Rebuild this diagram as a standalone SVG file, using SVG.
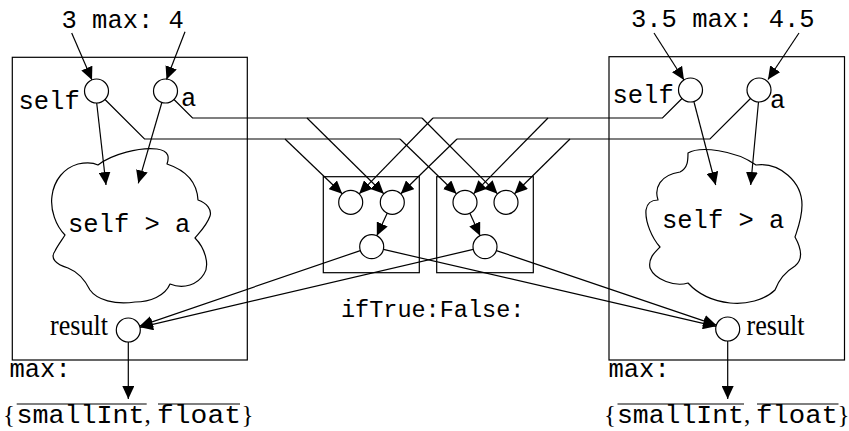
<svg xmlns="http://www.w3.org/2000/svg" width="849" height="431" viewBox="0 0 849 431">
  <style>
    .frame { fill: none; stroke: #000; stroke-width: 1.2; }
    .port { fill: #fff; stroke: #000; stroke-width: 1.2; }
    .cloud { fill: #fff; stroke: #000; stroke-width: 1.2; stroke-linejoin: round; }
    .wire { fill: none; stroke: #000; stroke-width: 1.2; }
    .arrow { fill: none; stroke: #000; stroke-width: 1.2; marker-end: url(#head); }
    .mono { font-family: "Liberation Mono", "Courier New", monospace; font-size: 25.5px; fill: #000; }
    .serif { font-family: "Liberation Serif", "Times New Roman", serif; font-size: 25px; fill: #000; }
    .label { font-family: "Liberation Serif", "Times New Roman", serif; font-size: 29px; fill: #000; }
    .bar { stroke: #000; stroke-width: 1.2; }
  </style>
  <defs>
    <marker id="head" viewBox="0 0 13 12" refX="13" refY="6" markerWidth="13" markerHeight="12" markerUnits="userSpaceOnUse" orient="auto">
      <path d="M0,0 L13,6 L0,12 Z" fill="#000"/>
    </marker>
  </defs>

  <rect width="849" height="431" fill="#fff"/>

  <!-- left method: 3 max: 4 -->
  <g id="max-int">
    <rect class="frame" x="12.3" y="57.3" width="235" height="302.7"/>
    <text class="mono" x="61.5" y="28">3 max: 4</text>
    <path class="cloud" d="M 98,165 C 112,154 140,147 157,149 C 170,151 169,158 167,164 C 185,170 197,182 198,200 C 207,203 212,210 210,216 C 207,225 200,232 195,238 C 205,248 210,265 204,274 C 198,284 184,290 170,284 C 165,296 150,302 135,302 C 115,305 97,300 90,290 C 85,280 78,272 68,268 C 55,264 50,258 55,251 C 58,245 62,240 65,235 C 56,226 50,210 52,196 C 54,180 64,168 78,164 C 88,162 94,163 98,165 Z"/>
    <text class="mono" x="68" y="232">self &gt; a</text>
    <text class="mono" x="9.5" y="377">max:</text>
  </g>
  <g id="max-int-self">
    <circle class="port" cx="96.5" cy="91" r="12"/>
    <text class="mono" x="18.5" y="109">self</text>
  </g>
  <g id="max-int-a">
    <circle class="port" cx="165.5" cy="91" r="12"/>
    <text class="mono" x="181" y="106">a</text>
  </g>
  <g id="max-int-result">
    <circle class="port" cx="128.3" cy="330" r="12"/>
    <text class="label" x="50" y="335" textLength="58" lengthAdjust="spacingAndGlyphs">result</text>
  </g>
  <g id="max-int-types">
    <text y="423"><tspan class="serif" x="3">{</tspan><tspan class="mono" x="16.5" textLength="128" lengthAdjust="spacingAndGlyphs">smallInt</tspan><tspan class="serif" x="144.5">,</tspan><tspan class="mono" x="157" textLength="84" lengthAdjust="spacingAndGlyphs">float</tspan><tspan class="serif" x="241.5">}</tspan></text>
    <line class="bar" x1="16.7" y1="404" x2="146.7" y2="404"/>
    <line class="bar" x1="158" y1="404" x2="240" y2="404"/>
  </g>

  <!-- right method: 3.5 max: 4.5 -->
  <g id="max-float">
    <rect class="frame" x="609" y="56.7" width="235.5" height="303.3"/>
    <text class="mono" x="631" y="27">3.5 max: 4.5</text>
    <path class="cloud" d="M 688,153 C 700,146 735,150 756,165 C 780,162 802,182 802,205 C 802,218 798,228 795,237 C 800,246 805,258 795,266 C 785,272 778,282 775,290 C 765,300 745,305 730,303 C 712,301 698,294 688,283 C 675,287 655,280 650,268 C 648,258 655,252 660,247 C 652,238 645,222 646,210 C 647,203 652,200 658,200 C 654,188 660,175 680,172 C 688,168 688,160 688,153 Z"/>
    <text class="mono" x="662" y="227.5">self &gt; a</text>
    <text class="mono" x="608.5" y="377">max:</text>
  </g>
  <g id="max-float-self">
    <circle class="port" cx="690.5" cy="90" r="12"/>
    <text class="mono" x="612.5" y="103">self</text>
  </g>
  <g id="max-float-a">
    <circle class="port" cx="759" cy="90" r="12"/>
    <text class="mono" x="770" y="108">a</text>
  </g>
  <g id="max-float-result">
    <circle class="port" cx="727.7" cy="329" r="12"/>
    <text class="label" x="746.5" y="335" textLength="58" lengthAdjust="spacingAndGlyphs">result</text>
  </g>
  <g id="max-float-types">
    <text y="423"><tspan class="serif" x="604">{</tspan><tspan class="mono" x="617" textLength="127" lengthAdjust="spacingAndGlyphs">smallInt</tspan><tspan class="serif" x="744">,</tspan><tspan class="mono" x="756" textLength="82" lengthAdjust="spacingAndGlyphs">float</tspan><tspan class="serif" x="837.5">}</tspan></text>
    <line class="bar" x1="617.5" y1="404" x2="744" y2="404"/>
    <line class="bar" x1="757" y1="404" x2="838.5" y2="404"/>
  </g>

  <!-- ifTrue:False: selectors -->
  <g id="if-left">
    <rect class="frame" x="323.3" y="176.7" width="96" height="96"/>
    <circle class="port" cx="350.7" cy="202.3" r="12"/>
    <circle class="port" cx="392.3" cy="202.3" r="12"/>
    <circle class="port" cx="371.7" cy="246.7" r="12"/>
  </g>
  <g id="if-right">
    <rect class="frame" x="436.7" y="176.7" width="96.6" height="96"/>
    <circle class="port" cx="465" cy="202.3" r="12"/>
    <circle class="port" cx="506" cy="202.3" r="12"/>
    <circle class="port" cx="485" cy="246.7" r="12"/>
  </g>
  <text class="mono" x="341" y="316.5" style="font-size:23.5px">ifTrue:False:</text>

  <g id="connectors">
    <!-- receivers and arguments -->
    <line class="arrow" x1="71.7" y1="33" x2="92" y2="80"/>
    <line class="arrow" x1="185" y1="31.7" x2="166.5" y2="79.5"/>
    <line class="arrow" x1="654" y1="33" x2="684" y2="80"/>
    <line class="arrow" x1="799" y1="33" x2="768" y2="79.5"/>

    <!-- ports into comparison clouds -->
    <line class="arrow" x1="96.7" y1="103" x2="106" y2="185"/>
    <line class="arrow" x1="161.7" y1="103" x2="138.3" y2="183.3"/>
    <line class="arrow" x1="694" y1="102" x2="715.7" y2="185"/>
    <line class="arrow" x1="758.5" y1="102" x2="750.7" y2="185"/>

    <!-- left self / a buses -->
    <polyline class="wire" points="105,99.5 144.5,139 400,139"/>
    <polyline class="wire" points="174,99.5 192.5,118 422,118"/>
    <line class="arrow" x1="285" y1="139" x2="342.2" y2="193.8"/>
    <line class="arrow" x1="400" y1="139" x2="456.5" y2="193.8"/>
    <line class="arrow" x1="307" y1="118" x2="383.8" y2="193.8"/>
    <line class="arrow" x1="422" y1="118" x2="497.5" y2="193.8"/>

    <!-- right self / a buses -->
    <polyline class="wire" points="682,98.5 662.5,118 433,118"/>
    <polyline class="wire" points="750.5,98.5 710,139 457,139"/>
    <line class="arrow" x1="433" y1="118" x2="359.2" y2="193.8"/>
    <line class="arrow" x1="548" y1="118" x2="473.5" y2="193.8"/>
    <line class="arrow" x1="457" y1="139" x2="400.8" y2="193.8"/>
    <line class="arrow" x1="570" y1="139" x2="514.5" y2="193.8"/>

    <!-- inside the selectors -->
    <line class="arrow" x1="387.2" y1="213.2" x2="376.8" y2="235.8"/>
    <line class="arrow" x1="469.9" y1="213.2" x2="480.1" y2="235.8"/>

    <!-- selector outputs to results -->
    <line class="arrow" x1="360.3" y1="250.6" x2="139.7" y2="326.1"/>
    <line class="arrow" x1="473.3" y1="249.4" x2="140" y2="327.3"/>
    <line class="arrow" x1="383.4" y1="249.4" x2="716" y2="326.3"/>
    <line class="arrow" x1="496.4" y1="250.6" x2="716.3" y2="325.1"/>

    <!-- results out -->
    <line class="arrow" x1="128.3" y1="342" x2="128.3" y2="399"/>
    <line class="arrow" x1="727.7" y1="341" x2="727.7" y2="399"/>
  </g>
</svg>
